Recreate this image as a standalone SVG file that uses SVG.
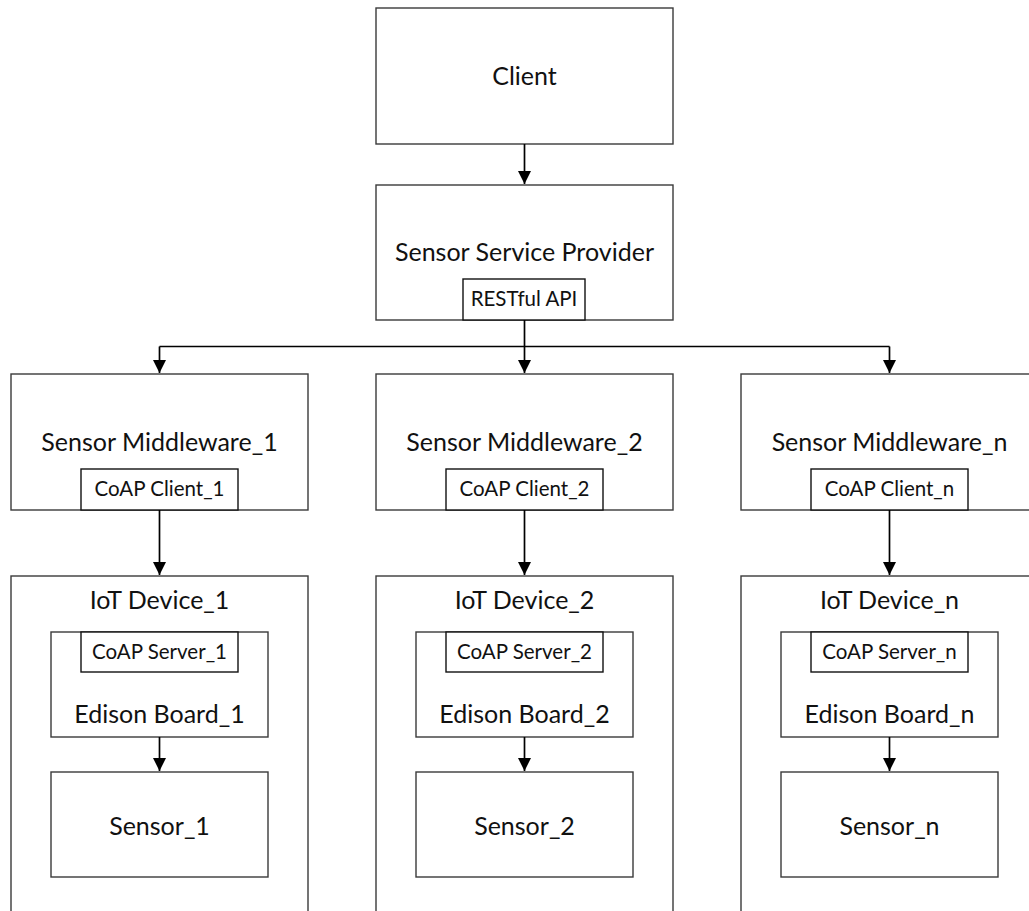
<svg xmlns="http://www.w3.org/2000/svg" width="1029" height="911" viewBox="0 0 1029 911">
<defs>
<style>
.box{fill:#fff;stroke:#3a3a3a;stroke-width:1.4}
.sub{fill:#fff;stroke:#111;stroke-width:1.4}
.lbl{font-family:Lato,"Liberation Sans",sans-serif;font-size:25px;fill:#111;text-anchor:middle}
.sm{font-family:Lato,"Liberation Sans",sans-serif;font-size:20.5px;fill:#111;text-anchor:middle}
.conn{fill:none;stroke:#000;stroke-width:1.7}
</style>
<marker id="arr" markerUnits="userSpaceOnUse" markerWidth="14" markerHeight="14" refX="13" refY="6.5" orient="auto">
<path d="M0,0 L13,6.5 L0,13 z" fill="#000"/>
</marker>
</defs>
<rect width="1029" height="911" fill="#fff"/>

<g id="client"><rect class="box" x="376" y="8" width="297" height="136"/><text class="lbl" x="524.5" y="85">Client</text></g>
<g id="ssp"><rect class="box" x="376" y="185" width="297" height="135"/><text class="lbl" x="524.5" y="261">Sensor Service Provider</text></g>
<g id="restful"><rect class="sub" x="463" y="279" width="122" height="41"/><text class="sm" x="524" y="306">RESTful API</text></g>

<g id="mw1"><rect class="box" x="11" y="374" width="297" height="136"/><text class="lbl" x="159.5" y="451">Sensor Middleware_1</text></g>
<g id="cc1"><rect class="sub" x="81" y="469" width="157" height="41"/><text class="sm" x="159.5" y="496">CoAP Client_1</text></g>
<g id="mw2"><rect class="box" x="376" y="374" width="297" height="136"/><text class="lbl" x="524.5" y="451">Sensor Middleware_2</text></g>
<g id="cc2"><rect class="sub" x="446" y="469" width="157" height="41"/><text class="sm" x="524.5" y="496">CoAP Client_2</text></g>
<g id="mwn"><rect class="box" x="741" y="374" width="297" height="136"/><text class="lbl" x="889.5" y="451">Sensor Middleware_n</text></g>
<g id="ccn"><rect class="sub" x="811" y="469" width="157" height="41"/><text class="sm" x="889.5" y="496">CoAP Client_n</text></g>

<g id="iot1"><rect class="box" x="11" y="576" width="297" height="345"/><text class="lbl" x="159.5" y="609">IoT Device_1</text></g>
<g id="eb1"><rect class="box" x="51" y="632" width="217" height="105"/><text class="lbl" x="159.5" y="723">Edison Board_1</text></g>
<g id="cs1"><rect class="sub" x="81" y="632" width="157" height="40"/><text class="sm" x="159.5" y="659">CoAP Server_1</text></g>
<g id="s1"><rect class="box" x="51" y="772" width="217" height="105"/><text class="lbl" x="159.5" y="835">Sensor_1</text></g>

<g id="iot2"><rect class="box" x="376" y="576" width="297" height="345"/><text class="lbl" x="524.5" y="609">IoT Device_2</text></g>
<g id="eb2"><rect class="box" x="416" y="632" width="217" height="105"/><text class="lbl" x="524.5" y="723">Edison Board_2</text></g>
<g id="cs2"><rect class="sub" x="446" y="632" width="157" height="40"/><text class="sm" x="524.5" y="659">CoAP Server_2</text></g>
<g id="s2"><rect class="box" x="416" y="772" width="217" height="105"/><text class="lbl" x="524.5" y="835">Sensor_2</text></g>

<g id="iotn"><rect class="box" x="741" y="576" width="297" height="345"/><text class="lbl" x="889.5" y="609">IoT Device_n</text></g>
<g id="ebn"><rect class="box" x="781" y="632" width="217" height="105"/><text class="lbl" x="889.5" y="723">Edison Board_n</text></g>
<g id="csn"><rect class="sub" x="811" y="632" width="157" height="40"/><text class="sm" x="889.5" y="659">CoAP Server_n</text></g>
<g id="sn"><rect class="box" x="781" y="772" width="217" height="105"/><text class="lbl" x="889.5" y="835">Sensor_n</text></g>

<g id="connectors">
<path class="conn" d="M524.5,144 V184" marker-end="url(#arr)"/>
<path class="conn" d="M524.5,320 V373" marker-end="url(#arr)"/>
<path class="conn" d="M159.5,346.5 H889.5"/>
<path class="conn" d="M159.5,346.5 V373" marker-end="url(#arr)"/>
<path class="conn" d="M889.5,346.5 V373" marker-end="url(#arr)"/>
<path class="conn" d="M159.5,510 V575" marker-end="url(#arr)"/>
<path class="conn" d="M524.5,510 V575" marker-end="url(#arr)"/>
<path class="conn" d="M889.5,510 V575" marker-end="url(#arr)"/>
<path class="conn" d="M159.5,737 V771" marker-end="url(#arr)"/>
<path class="conn" d="M524.5,737 V771" marker-end="url(#arr)"/>
<path class="conn" d="M889.5,737 V771" marker-end="url(#arr)"/>
</g>
</svg>
